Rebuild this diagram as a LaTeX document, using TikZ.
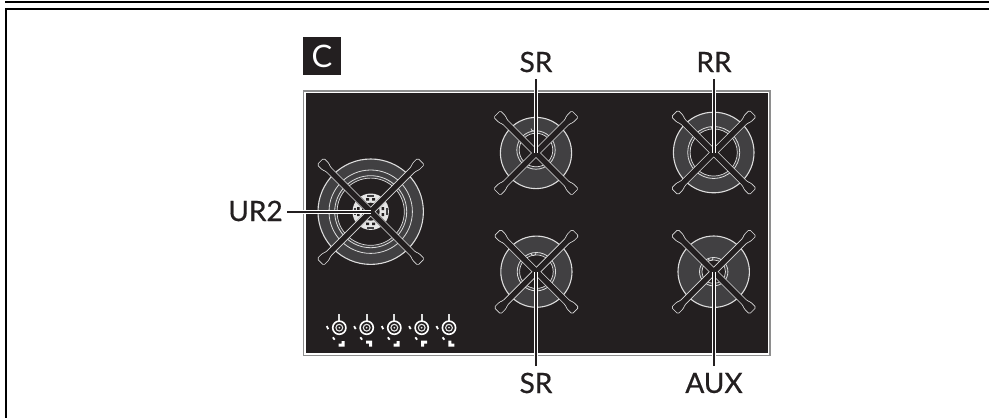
\documentclass[tikz,border=0pt]{standalone}
\usepackage{fontspec}
\setmainfont{Lato}[FakeBold=0.6]
\newfontfamily\badgefont{Lato}
\definecolor{hob}{HTML}{231F20}
\definecolor{band}{HTML}{414042}
\definecolor{rim}{HTML}{DCDCDC}
\definecolor{edge}{HTML}{8E8E8E}
\newcommand{\armpath}[1]{(0,-2.7) -- (#1-11,-2.7) -- (#1-7,-4.2) -- (#1-0.3,-4.2) -- (#1-0.3,4.2) -- (#1-7,4.2) -- (#1-11,2.7) -- (0,2.7) -- cycle}
\newcommand{\arms}[2]{%
  \begin{scope}[shift={(#1)}]
    \foreach \a in {45,135,225,315}
      {\draw[rim,line width=1.6pt,rounded corners=1.2pt,rotate=\a] \armpath{#2};}
    \foreach \a in {45,135,225,315}
      {\fill[hob,rounded corners=1.2pt,rotate=\a] \armpath{#2};}
  \end{scope}}
\newcommand{\stdburner}[4]{%
  \fill[band,draw=rim,line width=1.1pt] (#1) circle (#2);
  \begin{scope}[shift={(#1)},yshift=#4]
  \fill[band,draw=rim,line width=.8pt] (0,0) circle (#3);
  \fill[hob,draw=rim,line width=.7pt] (0,0) circle ({#3-2.4});
  \end{scope}}
\newcommand{\knob}[2]{%
  \begin{scope}[shift={(#1,327.7)}]
    \fill[rim] (-1,-14) rectangle (1,-7);
    \draw[white,line width=1.6pt] (0,0) circle (6.6);
    \draw[rim!80,line width=1.1pt] (0,0) circle (3.4);
    \fill[rim!80] (0,0) circle (1);
    \draw[white,line width=1.8pt] (-12.6,-1.6) -- (-11,1.4);
    \draw[white,line width=1.8pt] (-6.4,9.6) -- (-4.6,12);
    \begin{scope}[shift={(2.4,16)}]
      \fill[white] #2;
    \end{scope}
  \end{scope}}
\tikzset{
  tag/.style={font=\fontsize{28}{28}\selectfont,text=hob,inner sep=0pt},
  leader/.style={hob,line width=2pt,preaction={draw=white,line width=4pt}},
  frameline/.style={black,line width=2pt}
}
\begin{document}
\begin{tikzpicture}[x=1pt,y=-1pt]
\useasboundingbox (0,0) rectangle (989,418);
\fill[white] (0,0) rectangle (989,418);
% outer rules
\draw[frameline] (5,1.8) -- (989,1.8);
\draw[frameline] (989,9) -- (6,9) -- (6,418);
% badge
\node[fill=hob,text=white,minimum size=38pt,inner sep=0pt,font=\badgefont\fontsize{31}{31}\selectfont] (badge) at (322,56) {C};
% hob
\fill[edge] (302.5,90) rectangle (771,356);
\fill[white] (304.2,91.5) rectangle (769.4,354.6);
\fill[hob] (306,93) rectangle (768,352.8);
\coordinate (ur) at (370.7,211.7);
\coordinate (srt) at (536,153);
\coordinate (rr) at (713.7,152.5);
\coordinate (srb) at (536.4,271.7);
\coordinate (aux) at (713.7,271.7);
% UR2 burner
\fill[band,draw=rim,line width=1.1pt] (ur) circle (52.7);
\draw[rim,line width=.8pt] (ur) circle (41.7);
\fill[band,draw=rim,line width=.8pt] (ur) circle (36);
\fill[hob,draw=rim,line width=.7pt] (ur) circle (33.6);
\fill[white!90!black] (ur) circle (18.2);
\fill[hob] (ur) circle (9);
\foreach \a in {0,90,180,270}
  {\begin{scope}[shift={(ur)},rotate=\a]
    \fill[hob] (11,-4.5) rectangle (13.5,-1.5) (11,1.5) rectangle (13.5,4.5);
    \fill[band] (15,-3.5) rectangle (16.8,3.5);
  \end{scope}}
\foreach \a in {45,135,225,315}
  {\begin{scope}[shift={(ur)},rotate=\a]
    \fill[hob] (6,-3.6) rectangle (19,3.6);
  \end{scope}}
% others
\stdburner{srt}{35.6}{19.2}{3pt}
\stdburner{rr}{40.3}{26}{0pt}
\stdburner{srb}{35.6}{19.2}{0pt}
\stdburner{aux}{35.7}{14.2}{0pt}
\draw[rim,line width=.7pt] (531,128.5) arc (180:0:2.5);
\draw[rim,line width=.7pt] (711,126.5) arc (180:0:2.5);
\draw[rim,line width=.7pt] (531,253) arc (180:0:2.5);
\draw[rim,line width=.7pt] (708,258) arc (180:0:2.5);
\arms{ur}{71}
\arms{srt}{55}
\arms{rr}{55}
\arms{srb}{55}
\arms{aux}{55}
% knobs
\knob{339.3}{(0,-2.6) -- (3,-2.6) -- (3,3) -- (-3,3) -- (-3,0) -- (0,0) -- cycle}
\knob{366.7}{(-3,-3) -- (3,-3) -- (3,3) -- (0,3) -- (0,0) -- (-3,0) -- cycle}
\knob{394.3}{(0,-2.6) -- (3,-2.6) -- (3,3) -- (-3,3) -- (-3,0) -- (0,0) -- cycle}
\knob{421.7}{(-3,-3) -- (3,-3) -- (3,0) -- (0,0) -- (0,3) -- (-3,3) -- cycle}
\knob{449}{(-3,-3) -- (0,-3) -- (0,0) -- (3,0) -- (3,3) -- (-3,3) -- cycle}
% labels
\node[tag] (lsrt) at (536,62) {SR};
\node[tag] (lrr) at (714,62) {RR};
\node[tag] (lsrb) at (536,383) {SR};
\node[tag] (laux) at (714,383) {AUX};
\node[tag] (lur) at (255.5,211) {UR2};
\coordinate (esrt) at (536,79);
\coordinate (err) at (713.7,79);
\coordinate (esrb) at (536.4,366);
\coordinate (eaux) at (713.7,366);
\coordinate (eur) at (287,211.7);
\draw[leader] (esrt) -- (srt);
\draw[leader] (err) -- (rr);
\draw[leader] (esrb) -- (srb);
\draw[leader] (eaux) -- (aux);
\draw[leader] (eur) -- (ur);
\end{tikzpicture}
\end{document}
